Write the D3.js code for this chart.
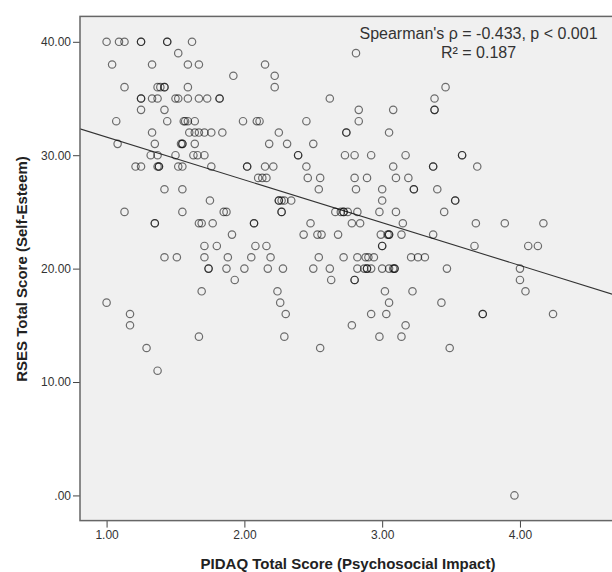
<!DOCTYPE html>
<html>
<head>
<meta charset="utf-8">
<script src="https://cdn.jsdelivr.net/npm/d3@7"></script>
<style>
  body { margin: 0; background: #fff; }
  svg { display: block; font-family: "Liberation Sans", Arial, sans-serif; }
  .tick text { fill: #333; font-size: 12px; }
  .tick line { stroke: #444; }
</style>
</head>
<body>
<script>
// PIDAQ total score (x) and RSES total score (y), one entry per respondent
var pidaq = [
  1.00, 1.09, 1.13, 1.25, 1.25, 1.44, 1.44, 1.62,
  1.52, 2.81,
  1.04, 1.33, 1.59, 1.67, 2.15,
  1.92, 2.22,
  1.13, 1.37, 1.39, 1.42, 1.42, 1.59, 2.22, 3.46,
  1.25, 1.25, 1.33, 1.37, 1.50, 1.52, 1.59, 1.67, 1.73, 1.82, 1.82, 2.62, 3.38,
  1.25, 1.42, 2.83, 3.08, 3.38, 3.38,
  1.07, 1.44, 1.56, 1.57, 1.59, 1.64, 1.99, 2.09, 2.11, 2.45, 2.83,
  1.33, 1.60, 1.64, 1.67, 1.71, 1.76, 1.84, 2.25, 2.74, 2.74, 3.05,
  1.08, 1.35, 1.54, 1.55, 1.55, 1.64, 2.18, 2.31, 2.50,
  1.32, 1.37, 1.50, 1.63, 1.66, 1.71, 2.39, 2.39, 2.73, 2.80, 2.92, 3.17, 3.58, 3.58,
  1.21, 1.25, 1.37, 1.38, 1.38, 1.52, 1.55, 1.76, 2.02, 2.02, 2.15, 2.21, 2.45, 3.08, 3.37, 3.37, 3.69,
  2.10, 2.13, 2.16, 2.46, 2.55, 2.80, 2.89, 3.10, 3.19,
  1.42, 1.55, 2.54, 2.81, 3.00, 3.23, 3.23, 3.40,
  1.75, 2.25, 2.25, 2.27, 2.29, 2.34, 3.00, 3.53, 3.53,
  1.13, 1.55, 1.85, 1.87, 2.27, 2.27, 2.66, 2.70, 2.72, 2.72, 2.75, 2.82, 2.98, 3.10, 3.45,
  1.35, 1.35, 1.67, 1.69, 1.77, 2.07, 2.07, 2.48, 2.78, 2.84, 3.15, 3.68, 3.89, 4.17,
  1.91, 2.43, 2.53, 2.56, 2.68, 2.99, 3.04, 3.05, 3.05, 3.14, 3.37,
  1.71, 1.80, 2.08, 2.16, 3.00, 3.00, 3.67, 4.06, 4.13,
  1.42, 1.51, 1.71, 1.88, 2.05, 2.19, 2.54, 2.72, 2.82, 2.88, 2.90, 2.94, 3.21, 3.26, 3.31,
  1.74, 1.74, 1.87, 2.00, 2.17, 2.28, 2.50, 2.62, 2.82, 2.87, 2.89, 2.89, 2.92, 3.00, 3.05, 3.08, 3.09, 3.09, 3.47, 4.00,
  1.93, 2.63, 2.80, 2.80, 4.00,
  1.69, 2.24, 3.02, 3.22, 4.04,
  1.00, 2.26, 3.05, 3.43,
  1.17, 2.30, 2.92, 3.03, 3.73, 3.73, 4.24,
  1.17, 2.78, 3.17,
  1.67, 2.29, 2.98, 3.14,
  1.29, 2.55, 3.49,
  1.37,
  3.96
];
var rses = [
  40, 40, 40, 40, 40, 40, 40, 40,
  39, 39,
  38, 38, 38, 38, 38,
  37, 37,
  36, 36, 36, 36, 36, 36, 36, 36,
  35, 35, 35, 35, 35, 35, 35, 35, 35, 35, 35, 35, 35,
  34, 34, 34, 34, 34, 34,
  33, 33, 33, 33, 33, 33, 33, 33, 33, 33, 33,
  32, 32, 32, 32, 32, 32, 32, 32, 32, 32, 32,
  31, 31, 31, 31, 31, 31, 31, 31, 31,
  30, 30, 30, 30, 30, 30, 30, 30, 30, 30, 30, 30, 30, 30,
  29, 29, 29, 29, 29, 29, 29, 29, 29, 29, 29, 29, 29, 29, 29, 29, 29,
  28, 28, 28, 28, 28, 28, 28, 28, 28,
  27, 27, 27, 27, 27, 27, 27, 27,
  26, 26, 26, 26, 26, 26, 26, 26, 26,
  25, 25, 25, 25, 25, 25, 25, 25, 25, 25, 25, 25, 25, 25, 25,
  24, 24, 24, 24, 24, 24, 24, 24, 24, 24, 24, 24, 24, 24,
  23, 23, 23, 23, 23, 23, 23, 23, 23, 23, 23,
  22, 22, 22, 22, 22, 22, 22, 22, 22,
  21, 21, 21, 21, 21, 21, 21, 21, 21, 21, 21, 21, 21, 21, 21,
  20, 20, 20, 20, 20, 20, 20, 20, 20, 20, 20, 20, 20, 20, 20, 20, 20, 20, 20, 20,
  19, 19, 19, 19, 19,
  18, 18, 18, 18, 18,
  17, 17, 17, 17,
  16, 16, 16, 16, 16, 16, 16,
  15, 15, 15,
  14, 14, 14, 14,
  13, 13, 13,
  11,
  0
];
var xTicks = [1, 2, 3, 4];
var yTicks = [0, 10, 20, 30, 40];
var statLines = ["Spearman's \u03c1 = -0.433, p < 0.001", "R\u00b2 = 0.187"];

var W = 612, H = 572;
var plot = {left: 80, top: 16.4, right: 616, bottom: 520.6};

var svg = d3.select("body").append("svg")
    .attr("width", W)
    .attr("height", H);

var x = d3.scaleLinear().domain([0.807, 4.697]).range([plot.left, plot.right]);
var y = d3.scaleLinear().domain([-2.22, 42.24]).range([plot.bottom, plot.top]);

// plot background
svg.append("rect")
    .attr("x", plot.left).attr("y", plot.top)
    .attr("width", plot.right - plot.left).attr("height", plot.bottom - plot.top)
    .attr("fill", "#f0f0f0");

svg.append("clipPath").attr("id", "clip")
  .append("rect")
    .attr("x", plot.left).attr("y", plot.top)
    .attr("width", plot.right - plot.left).attr("height", plot.bottom - plot.top);

var fmt = function(d) { return d === 0 ? ".00" : d3.format(".2f")(d); };

// axes
svg.append("g")
    .attr("transform", "translate(" + plot.left + ",0)")
    .call(d3.axisLeft(y).tickValues(yTicks).tickFormat(fmt).tickSize(7).tickPadding(2).tickSizeOuter(0))
    .call(function(g) { g.select(".domain").remove(); });

svg.append("g")
    .attr("transform", "translate(0," + plot.bottom + ")")
    .call(d3.axisBottom(x).tickValues(xTicks).tickFormat(fmt).tickSize(7).tickPadding(3).tickSizeOuter(0))
    .call(function(g) { g.select(".domain").remove(); });

// least squares fit line
var pts = pidaq.map(function(v, i) { return [v, rses[i]]; });
var mx = d3.mean(pidaq), my = d3.mean(rses);
var sxy = d3.sum(pts, function(p) { return (p[0] - mx) * (p[1] - my); });
var sxx = d3.sum(pidaq, function(v) { return (v - mx) * (v - mx); });
var slope = sxy / sxx, icpt = my - slope * mx;
var xd = x.domain();

svg.append("g").attr("clip-path", "url(#clip)")
  .append("line")
    .attr("x1", x(xd[0])).attr("y1", y(icpt + slope * xd[0]))
    .attr("x2", x(xd[1])).attr("y2", y(icpt + slope * xd[1]))
    .attr("stroke", "#333")
    .attr("stroke-width", 1.1);

// points
svg.append("g").attr("clip-path", "url(#clip)")
    .selectAll("circle")
    .data(pts)
    .enter().append("circle")
    .attr("cx", function(d) { return x(d[0]); })
    .attr("cy", function(d) { return y(d[1]); })
    .attr("r", 3.7)
    .attr("fill", "none")
    .attr("stroke", "#000")
    .attr("stroke-opacity", 0.55)
    .attr("stroke-width", 1.2);

// frame
svg.append("rect")
    .attr("x", plot.left).attr("y", plot.top)
    .attr("width", plot.right - plot.left).attr("height", plot.bottom - plot.top)
    .attr("fill", "none")
    .attr("stroke", "#666")
    .attr("stroke-width", 1.5);

// annotation, two centred lines
svg.append("text")
    .attr("text-anchor", "middle")
    .attr("fill", "#333")
    .style("font-size", "16px")
    .selectAll("tspan")
    .data(statLines)
    .enter().append("tspan")
    .attr("x", 478.5)
    .attr("y", function(d, i) { return 39 + i * 18.5; })
    .text(function(d) { return d; });

// axis titles
svg.append("text")
    .attr("x", 348).attr("y", 569)
    .attr("text-anchor", "middle")
    .attr("fill", "#222")
    .style("font-size", "15px").style("font-weight", "bold")
    .text("PIDAQ Total Score (Psychosocial Impact)");

svg.append("text")
    .attr("transform", "translate(27,269) rotate(-90)")
    .attr("text-anchor", "middle")
    .attr("fill", "#222")
    .style("font-size", "15px").style("font-weight", "bold")
    .text("RSES Total Score (Self-Esteem)");
</script>
</body>
</html>
